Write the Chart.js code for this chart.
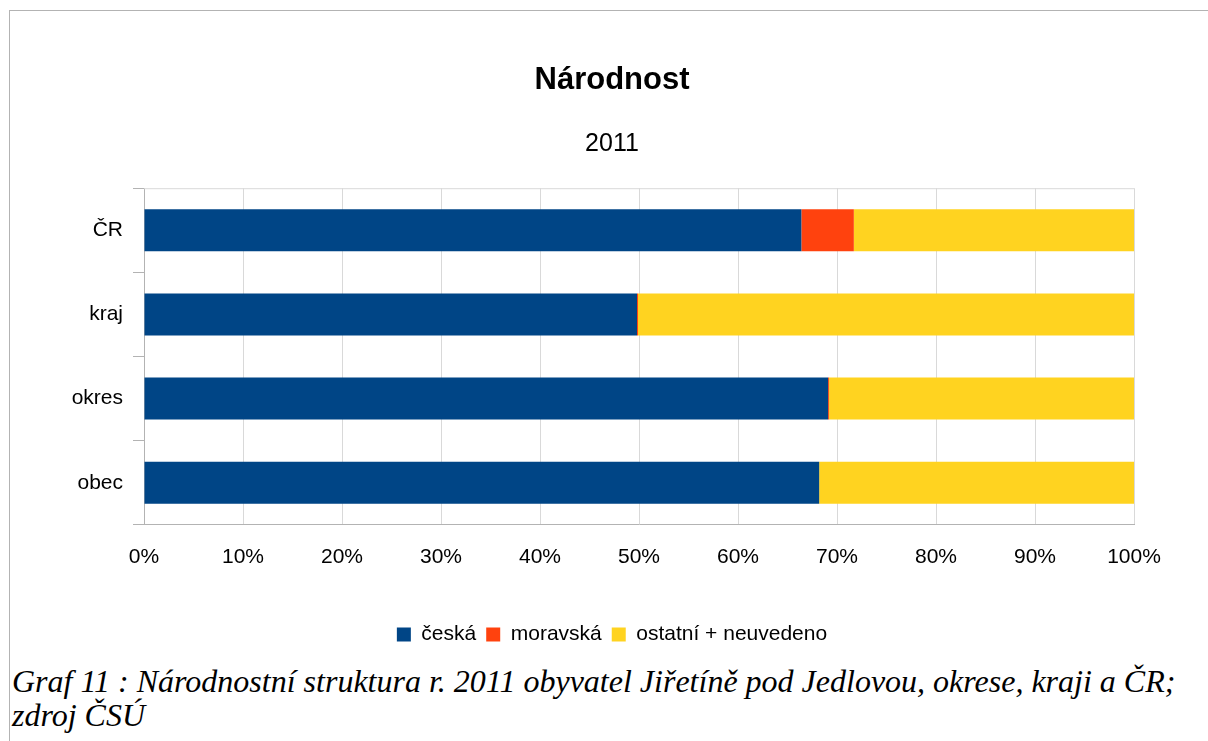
<!DOCTYPE html>
<html>
<head>
<meta charset="utf-8">
<script src="https://cdn.jsdelivr.net/npm/chart.js@4/dist/chart.umd.min.js"></script>
<style>
  body { margin: 0; background: #fff; width: 1208px; height: 741px; overflow: hidden; position: relative; }
  #ramecek { position: absolute; left: 9px; top: 10px; width: 1300px; height: 800px;
             border-left: 1px solid #b3b3b3; border-top: 1px solid #b3b3b3; }
  #obal { position: absolute; left: 0; top: 0; width: 1208px; height: 655px; }
  #popisek { position: absolute; left: 12px; top: 664px; font-family: "Liberation Serif", serif;
             font-style: italic; font-size: 32px; line-height: 34px; color: #000; white-space: nowrap; }
</style>
</head>
<body>
<div id="ramecek"></div>
<div id="obal"><canvas id="grafNarodnost"></canvas></div>
<div id="popisek">Graf 11 : Národnostní struktura r. 2011 obyvatel Jiřetíně pod Jedlovou, okrese, kraji a ČR;<br>zdroj ČSÚ</div>
<script>
// data (podíl v %)
const oblasti = ['ČR', 'kraj', 'okres', 'obec'];
const ceska = [66.4, 49.8, 69.1, 68.2];
const moravska = [5.3, 0.1, 0.1, 0];
const ostatni = [28.3, 50.1, 30.8, 31.8];
const xTicks = [0, 10, 20, 30, 40, 50, 60, 70, 80, 90, 100];

// horní linka plochy grafu + popisky osy y nesmí být oříznuty
const ramecekPlochy = {
    id: 'ramecekPlochy',
    afterLayout(chart) {
        chart.scales.y.left = 0;
    },
    afterDraw(chart) {
        const { ctx, chartArea } = chart;
        ctx.save();
        ctx.strokeStyle = '#d9d9d9';
        ctx.lineWidth = 1;
        ctx.beginPath();
        ctx.moveTo(chartArea.left, chartArea.top + 0.5);
        ctx.lineTo(chartArea.right, chartArea.top + 0.5);
        ctx.stroke();
        ctx.restore();
    }
};

const ctx = document.getElementById('grafNarodnost');
new Chart(ctx, {
    type: 'bar',
    data: {
        labels: oblasti,
        datasets: [
            { label: 'česká', data: ceska, backgroundColor: '#004586' },
            { label: 'moravská', data: moravska, backgroundColor: '#ff420e' },
            { label: 'ostatní + neuvedeno', data: ostatni, backgroundColor: '#ffd320' }
        ]
    },
    options: {
        indexAxis: 'y',
        responsive: true,
        maintainAspectRatio: false,
        animation: false,
        barPercentage: 0.5,
        categoryPercentage: 1,
        layout: { padding: { top: 40, right: 74, bottom: 0, left: 90 } },
        plugins: {
            title: {
                display: true, text: 'Národnost', color: '#000',
                font: { family: 'Liberation Sans', size: 31, weight: 'bold' },
                padding: { top: 22, bottom: 0 }
            },
            subtitle: {
                display: true, text: '2011', color: '#000',
                font: { family: 'Liberation Sans', size: 25 },
                padding: { top: 30, bottom: 29 }
            },
            legend: {
                position: 'bottom',
                labels: {
                    color: '#000', boxWidth: 14, boxHeight: 14, padding: 10,
                    font: { family: 'Liberation Sans', size: 21 }
                }
            },
            tooltip: { enabled: false }
        },
        scales: {
            x: {
                stacked: true, min: 0, max: 100,
                afterBuildTicks(scale) { scale.ticks = xTicks.map(v => ({ value: v })); },
                afterFit(scale) { scale.height += 24; },
                grid: { color: '#d9d9d9', drawTicks: false },
                border: { color: '#b3b3b3' },
                ticks: {
                    color: '#000', padding: 20,
                    font: { family: 'Liberation Sans', size: 21 },
                    callback: v => v + '%'
                }
            },
            y: {
                stacked: true,
                afterFit(scale) { scale.width = 54; },
                grid: { offset: true, drawOnChartArea: false, tickLength: 11, color: '#b3b3b3' },
                border: { color: '#b3b3b3' },
                ticks: {
                    color: '#000', padding: 10,
                    font: { family: 'Liberation Sans', size: 21 }
                }
            }
        }
    },
    plugins: [ramecekPlochy]
});
</script>
</body>
</html>
